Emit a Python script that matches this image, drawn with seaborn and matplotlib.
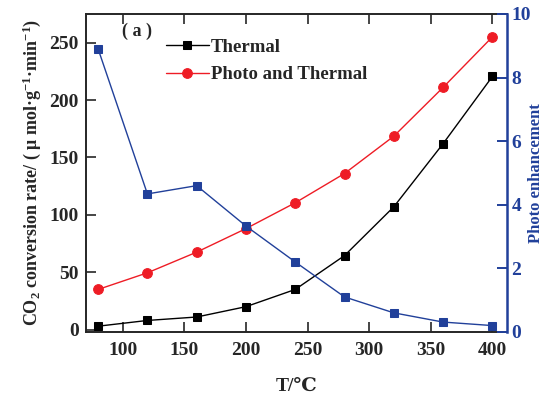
import matplotlib
matplotlib.use('Agg')
import matplotlib.pyplot as plt
import seaborn as sns
import pandas as pd

temps = [80, 120, 160, 200, 240, 280, 320, 360, 400]
thermal = [3, 8, 11, 20, 35, 64.5, 107, 162, 220.5]
photo_thermal = [35, 49.5, 67.5, 88, 110.5, 136, 168.5, 211, 255]
enhancement = [8.9, 4.34, 4.6, 3.33, 2.2, 1.1, 0.6, 0.31, 0.2]

x_ticks = [100, 150, 200, 250, 300, 350, 400]
left_ticks = [0, 50, 100, 150, 200, 250]
right_ticks = [0, 2, 4, 6, 8, 10]

df = pd.DataFrame({'T': temps, 'Thermal': thermal, 'Photo and Thermal': photo_thermal, 'Enh': enhancement})

sns.set_style('ticks')
plt.rcParams['font.family'] = ['Liberation Serif', 'DejaVu Serif']
plt.rcParams['font.weight'] = 'bold'
plt.rcParams['mathtext.fontset'] = 'custom'
plt.rcParams['mathtext.rm'] = 'Liberation Serif:bold'
plt.rcParams['mathtext.bf'] = 'Liberation Serif:bold'
plt.rcParams['mathtext.default'] = 'regular'

blue = '#21409a'
red = '#ee1c25'

fig = plt.figure(figsize=(5.43, 3.98), dpi=100)
ax = fig.add_axes([0.158, 0.166, 0.776, 0.799])

sns.lineplot(data=df, x='T', y='Thermal', ax=ax, color='black', marker='s', markersize=6,
             markeredgecolor='black', linewidth=1, label='Thermal')
sns.lineplot(data=df, x='T', y='Photo and Thermal', ax=ax, color=red, marker='o', markersize=7,
             markeredgecolor=red, linewidth=1, label='Photo and Thermal')

ax.set_xlim(70, 412)
ax.set_ylim(-2, 275)
ax.set_xticks(x_ticks)
ax.set_yticks(left_ticks)
ax.tick_params(axis='both', direction='in', length=7, width=1.2, labelsize=14)
ax.tick_params(axis='x', top=True, length=7, pad=7)
ax.tick_params(axis='y', pad=5)
for lab in ax.get_xticklabels() + ax.get_yticklabels():
    lab.set_fontweight('bold')
for s in ['left', 'bottom', 'top']:
    ax.spines[s].set_linewidth(1.4)
ax.spines['right'].set_visible(False)

ax.set_xlabel('T/℃', fontsize=14, fontweight='bold', labelpad=14)
ax.set_ylabel('CO$_2$ conversion rate/ ( μ mol·g$^{-1}$·min$^{-1}$)', fontsize=13,
              fontweight='bold', labelpad=5)

leg = ax.legend(loc='upper left', bbox_to_anchor=(0.172, 0.945), frameon=False, fontsize=13.5,
                handlelength=2.3, handletextpad=0.1, labelspacing=0.55, borderaxespad=0)
for t in leg.get_texts():
    t.set_fontweight('bold')

ax.text(0.085, 0.945, '( a )', transform=ax.transAxes, fontsize=13, fontweight='bold', va='center')

ax2 = ax.twinx()
sns.lineplot(data=df, x='T', y='Enh', ax=ax2, color=blue, marker='s', markersize=6,
             markeredgecolor=blue, linewidth=1, legend=False)
ax2.set_ylim(0, 10)
ax2.set_yticks(right_ticks)
ax2.tick_params(axis='y', direction='in', length=7, width=1.4, colors=blue, labelsize=14, pad=3)
for lab in ax2.get_yticklabels():
    lab.set_fontweight('bold')
for s in ['left', 'bottom', 'top']:
    ax2.spines[s].set_visible(False)
ax2.spines['right'].set_color(blue)
ax2.spines['right'].set_linewidth(1.8)
ax2.set_ylabel('Photo enhancement', color=blue, fontsize=12, fontweight='bold', labelpad=-2)

fig.savefig('out.png', dpi=100)
